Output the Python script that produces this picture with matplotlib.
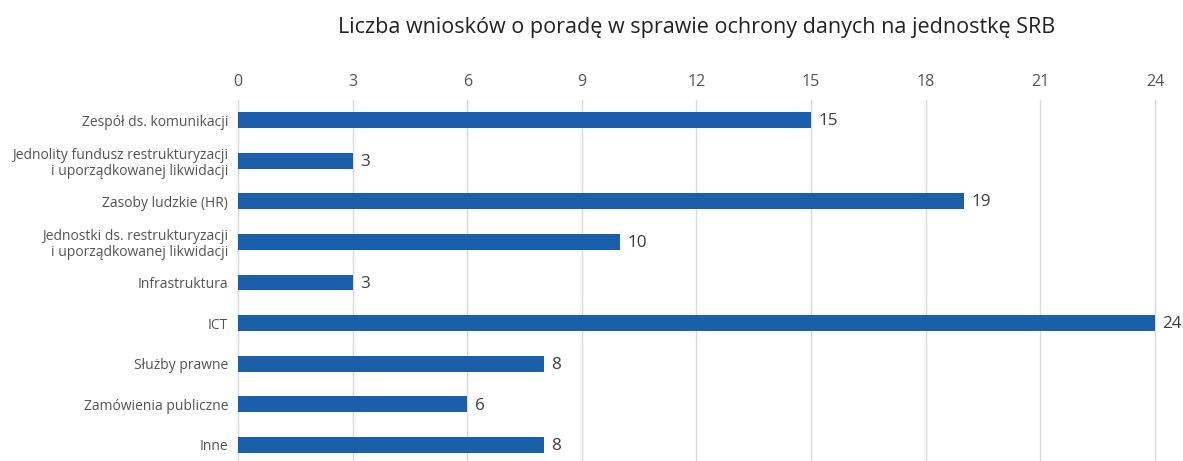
import matplotlib.pyplot as plt

plt.rcParams['font.family'] = ['Open Sans', 'DejaVu Sans']

# Data
categories = [
    'Zespół ds. komunikacji',
    'Jednolity fundusz restrukturyzacji\ni uporządkowanej likwidacji',
    'Zasoby ludzkie (HR)',
    'Jednostki ds. restrukturyzacji\ni uporządkowanej likwidacji',
    'Infrastruktura',
    'ICT',
    'Służby prawne',
    'Zamówienia publiczne',
    'Inne',
]
values = [15, 3, 19, 10, 3, 24, 8, 6, 8]
x_ticks = [0, 3, 6, 9, 12, 15, 18, 21, 24]
title = 'Liczba wniosków o poradę w sprawie ochrony danych na jednostkę SRB'

BAR_COLOR = '#1b5eaa'
TEXT_COLOR = '#404040'

fig = plt.figure(figsize=(11.83, 4.61), dpi=100)
ax = fig.add_axes([0.2012, -0.0093, 0.7751, 0.793])

pos = list(range(len(categories)))
ax.barh(pos, values, height=0.39, color=BAR_COLOR, zorder=3)
for p, v in zip(pos, values):
    ax.text(v + 0.2, p + 0.03, str(v), va='center', ha='left', fontsize=12.3, color=TEXT_COLOR)

ax.set_ylim(len(categories) - 0.5, -0.5)
ax.set_yticks(pos)
ax.set_yticklabels(categories, fontsize=10, color='#555555', linespacing=1.1)
ax.set_xlim(0, 24)
ax.set_xticks(x_ticks)
ax.xaxis.tick_top()
ax.tick_params(axis='x', length=0, labelsize=11.5, labelcolor='#555555', pad=7)
ax.tick_params(axis='y', length=0, pad=7)
ax.grid(axis='x', color='#d9d9d9', linewidth=1, zorder=0)
for line in ax.get_xgridlines():
    line.set_clip_on(False)
for s in ax.spines.values():
    s.set_visible(False)

fig.text(0.5888, 0.94, title, ha='center', va='center', fontsize=15.5, color='#222222')

fig.savefig('out.png', dpi=100)
